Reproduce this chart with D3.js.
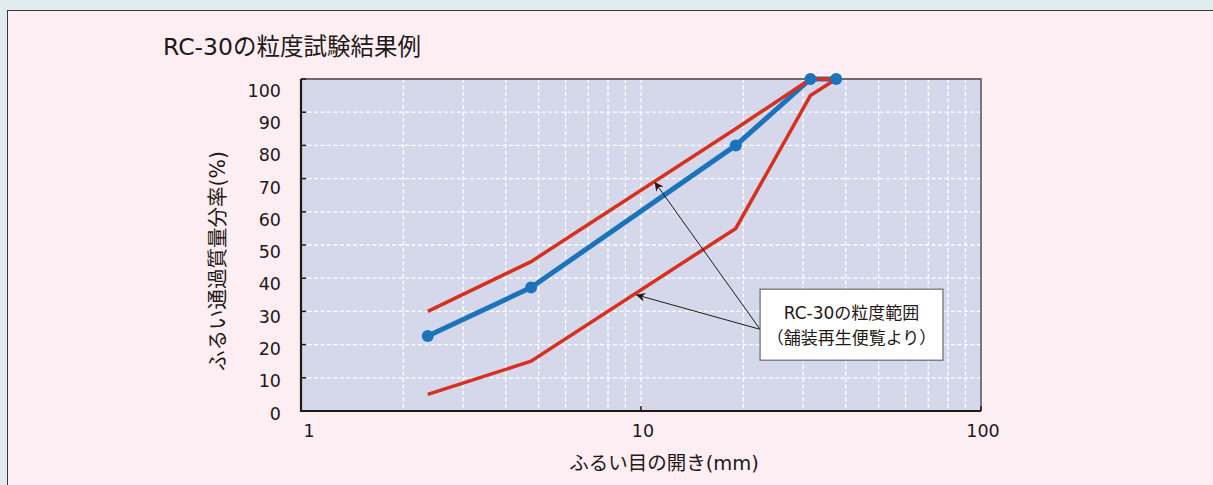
<!DOCTYPE html>
<html>
<head>
  <meta charset="utf-8">
  <script src="https://d3js.org/d3.v7.min.js"></script>
  <style>
    html, body { margin: 0; padding: 0; background: #e2ecef; }
    svg { display: block; }
    text { font-family: "DejaVu Sans", "Noto Sans CJK JP", sans-serif; fill: #231815; }
  </style>
</head>
<body>
<script>
  // sieve sizes (mm) and passing percentages
  var sieves = [2.36, 4.75, 19, 31.5, 37.5];
  var testResult = [22.6, 37.2, 80, 100, 100];
  var upperLimit = [30, 45, 85, 100, 100];
  var lowerLimit = [5, 15, 55, 95, 100];

  var yTicks = [0, 10, 20, 30, 40, 50, 60, 70, 80, 90, 100];
  var xTicks = [1, 10, 100];
  var xMinor = [2, 3, 4, 5, 6, 7, 8, 9, 10, 20, 30, 40, 50, 60, 70, 80, 90];

  var title = "RC-30の粒度試験結果例";
  var xTitle = "ふるい目の開き(mm)";
  var yTitle = "ふるい通過質量分率(%)";
  var noteLines = ["RC-30の粒度範囲", "（舗装再生便覧より）"];
  // arrow targets on the range lines (x in mm, y in %)
  var noteTargets = [[10.97, 69], [9.67, 35]];

  var width = 1213, height = 485;
  var plot = {left: 301, top: 79, right: 981, bottom: 411};

  var svg = d3.select("body").append("svg")
      .attr("width", width)
      .attr("height", height);

  // pink panel
  svg.append("rect")
      .attr("x", 7.5).attr("y", 10.5)
      .attr("width", width + 20).attr("height", height + 20)
      .attr("fill", "#fdeef4")
      .attr("stroke", "#3a3a3a")
      .attr("stroke-width", 1);

  svg.append("text")
      .attr("x", 163).attr("y", 55)
      .style("font-size", "23.5px")
      .text(title);

  var x = d3.scaleLog().domain([1, 100]).range([plot.left, plot.right]);
  var y = d3.scaleLinear().domain([0, 100]).range([plot.bottom, plot.top]);
  // tick labels sit a little below their gridlines in the original
  var yLab = d3.scaleLinear().domain([0, 100]).range([413.5, 90.5]);

  svg.append("rect")
      .attr("x", plot.left).attr("y", plot.top)
      .attr("width", plot.right - plot.left).attr("height", plot.bottom - plot.top)
      .attr("fill", "#d5d8eb");

  var grid = svg.append("g")
      .attr("stroke", "#ffffff")
      .attr("stroke-width", 1.3)
      .attr("stroke-dasharray", "4,2.5");

  grid.selectAll("line.h")
      .data(yTicks.filter(function (d) { return d > 0 && d < 100; }))
      .enter().append("line")
      .attr("x1", plot.left).attr("x2", plot.right)
      .attr("y1", function (d) { return y(d); })
      .attr("y2", function (d) { return y(d); });

  grid.selectAll("line.v")
      .data(xMinor)
      .enter().append("line")
      .attr("y1", plot.top).attr("y2", plot.bottom)
      .attr("x1", function (d) { return x(d); })
      .attr("x2", function (d) { return x(d); });

  // top / right frame
  svg.append("path")
      .attr("d", "M" + plot.left + "," + plot.top + "H" + plot.right + "V" + plot.bottom)
      .attr("fill", "none")
      .attr("stroke", "#6e6a6c")
      .attr("stroke-width", 1.8);

  // inward ticks
  svg.append("g").selectAll("line")
      .data(yTicks)
      .enter().append("line")
      .attr("x1", plot.left).attr("x2", plot.left + 5)
      .attr("y1", function (d) { return y(d); })
      .attr("y2", function (d) { return y(d); })
      .attr("stroke", "#231815").attr("stroke-width", 1.5);

  svg.append("g").selectAll("line")
      .data(xTicks)
      .enter().append("line")
      .attr("x1", function (d) { return x(d); })
      .attr("x2", function (d) { return x(d); })
      .attr("y1", plot.bottom).attr("y2", plot.bottom - 5)
      .attr("stroke", "#231815").attr("stroke-width", 1.5);

  // left / bottom axis lines
  svg.append("path")
      .attr("d", "M" + plot.left + "," + plot.top + "V" + plot.bottom + "H" + plot.right)
      .attr("fill", "none")
      .attr("stroke", "#231815")
      .attr("stroke-width", 2.2);

  svg.append("g").selectAll("text")
      .data(yTicks)
      .enter().append("text")
      .attr("x", 281)
      .attr("y", function (d) { return yLab(d); })
      .attr("dy", "0.35em")
      .attr("text-anchor", "end")
      .style("font-size", "17.5px")
      .text(function (d) { return d; });

  svg.append("g").selectAll("text")
      .data(xTicks)
      .enter().append("text")
      .attr("x", function (d) { return x(d) + (d === 1 ? 8 : 2); })
      .attr("y", 431)
      .attr("dy", "0.35em")
      .attr("text-anchor", "middle")
      .style("font-size", "17.5px")
      .text(function (d) { return d; });

  svg.append("text")
      .attr("x", 664).attr("y", 463)
      .attr("dy", "0.35em")
      .attr("text-anchor", "middle")
      .style("font-size", "19.5px")
      .text(xTitle);

  svg.append("text")
      .attr("transform", "translate(218,261) rotate(-90)")
      .attr("dy", "0.35em")
      .attr("text-anchor", "middle")
      .style("font-size", "20.5px")
      .text(yTitle);

  var line = d3.line()
      .x(function (d) { return x(d[0]); })
      .y(function (d) { return y(d[1]); });

  function pairs(vals) { return sieves.map(function (s, i) { return [s, vals[i]]; }); }

  svg.append("path")
      .attr("d", line(pairs(testResult)))
      .attr("fill", "none")
      .attr("stroke", "#1b73bb")
      .attr("stroke-width", 5)
      .attr("stroke-linejoin", "round");

  [upperLimit, lowerLimit].forEach(function (vals) {
    svg.append("path")
        .attr("d", line(pairs(vals)))
        .attr("fill", "none")
        .attr("stroke", "#d7301f")
        .attr("stroke-width", 3.5)
        .attr("stroke-linejoin", "miter");
  });

  svg.append("g").selectAll("circle")
      .data(pairs(testResult))
      .enter().append("circle")
      .attr("cx", function (d) { return x(d[0]); })
      .attr("cy", function (d) { return y(d[1]); })
      .attr("r", 6)
      .attr("fill", "#1b73bb");

  // annotation box and arrows
  var defs = svg.append("defs");
  defs.append("marker")
      .attr("id", "arr")
      .attr("viewBox", "0 0 10 10")
      .attr("refX", 10).attr("refY", 5)
      .attr("markerWidth", 9).attr("markerHeight", 9)
      .attr("markerUnits", "userSpaceOnUse")
      .attr("orient", "auto")
      .append("path")
      .attr("d", "M0,0L10,5L0,10L3,5Z")
      .attr("fill", "#231815");

  var box = {x0: x(22.4), x1: x(77.3), y0: y(36.7), y1: y(15.3)};
  var anchor = [box.x0, y(24.6)];

  svg.append("g").selectAll("line")
      .data(noteTargets)
      .enter().append("line")
      .attr("x1", anchor[0]).attr("y1", anchor[1])
      .attr("x2", function (d) { return x(d[0]); })
      .attr("y2", function (d) { return y(d[1]); })
      .attr("stroke", "#231815")
      .attr("stroke-width", 1)
      .attr("marker-end", "url(#arr)");

  svg.append("rect")
      .attr("x", box.x0).attr("y", box.y0)
      .attr("width", box.x1 - box.x0).attr("height", box.y1 - box.y0)
      .attr("fill", "#ffffff")
      .attr("stroke", "#6e6a6c")
      .attr("stroke-width", 1.2);

  svg.append("g").selectAll("text")
      .data(noteLines)
      .enter().append("text")
      .attr("x", (box.x0 + box.x1) / 2)
      .attr("y", function (d, i) { return 313 + i * 25; })
      .attr("dy", "0.35em")
      .attr("text-anchor", "middle")
      .style("font-size", "17px")
      .text(function (d) { return d; });
</script>
</body>
</html>
